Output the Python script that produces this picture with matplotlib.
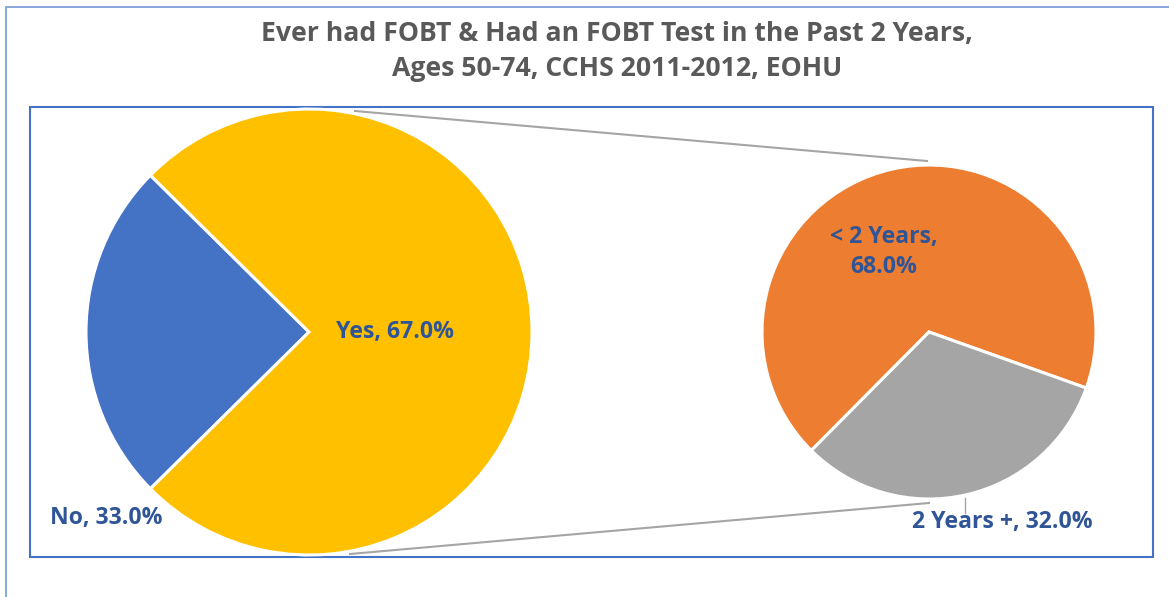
import matplotlib
matplotlib.use("Agg")
import matplotlib.pyplot as plt
from matplotlib.patches import Rectangle

# ---- data ----
title = "Ever had FOBT & Had an FOBT Test in the Past 2 Years,\nAges 50-74, CCHS 2011-2012, EOHU"
main_labels = ["No", "Yes"]
main_pct = [33.0, 67.0]
sub_labels = ["< 2 Years", "2 Years +"]
sub_pct = [68.0, 32.0]

main_colors = ["#4472C4", "#FFC000"]
sub_colors = ["#ED7D31", "#A5A5A5"]
label_color = "#2F5597"
FONT = ["Open Sans", "DejaVu Sans"]

W, H = 1169, 597
fig = plt.figure(figsize=(W / 100, H / 100), dpi=100)
ax = fig.add_axes([0, 0, 1, 1])

def Y(py):
    return H - py

# outer chart border and plot-area border
ax.add_patch(Rectangle((6, Y(1000)), 2000, 1000 - 7, fill=False, ec="#7F9FD8", lw=1.3))
ax.add_patch(Rectangle((30, Y(557)), 1153 - 30, 557 - 107, fill=False, ec="#4472C4", lw=1.5))

# main pie: "No" vs the combined secondary ("other") slice, Excel pie-of-pie style
main_vals = [main_pct[0], sum(sub_pct)]
c1, r1 = (309, Y(332)), 223
no_span = 360 * main_vals[0] / sum(main_vals)
ax.pie(main_vals, colors=main_colors, startangle=180 - no_span / 2, center=c1, radius=r1,
       wedgeprops=dict(edgecolor="white", linewidth=2.2), frame=True)

# secondary pie
c2, r2 = (929, Y(332)), 167
ax.pie(sub_pct, colors=sub_colors, startangle=-19.6, center=c2, radius=r2,
       wedgeprops=dict(edgecolor="white", linewidth=2.2), frame=True)

ax.set_xlim(0, W)
ax.set_ylim(0, H)
ax.set_aspect("equal")
ax.axis("off")

# connector lines
ax.plot([355, 927], [Y(111), Y(161)], color="#A5A5A5", lw=1.5, zorder=0)
ax.plot([350, 929], [Y(554), Y(503)], color="#A5A5A5", lw=1.5, zorder=0)
# leader line for 2 Years +
ax.plot([965, 965], [Y(498), Y(513)], color="#A5A5A5", lw=1.0)

lab_kw = dict(color=label_color, fontsize=16.6, fontweight="bold", family=FONT,
              ha="center", va="center")
ax.text(395, Y(332), f"{main_labels[1]}, {main_pct[1]:.1f}%", **lab_kw)
ax.text(106, Y(518), f"{main_labels[0]}, {main_pct[0]:.1f}%", **lab_kw)
ax.text(884, Y(252), f"{sub_labels[0]},\n{sub_pct[0]:.1f}%", linespacing=1.32, **lab_kw)
ax.text(1002, Y(522), f"{sub_labels[1]}, {sub_pct[1]:.1f}%", **lab_kw)

ax.text(617, Y(51.5), title, color="#595959", fontsize=19.2, fontweight="bold", family=FONT,
        ha="center", va="center", linespacing=1.42)

fig.savefig("out.png", dpi=100)
